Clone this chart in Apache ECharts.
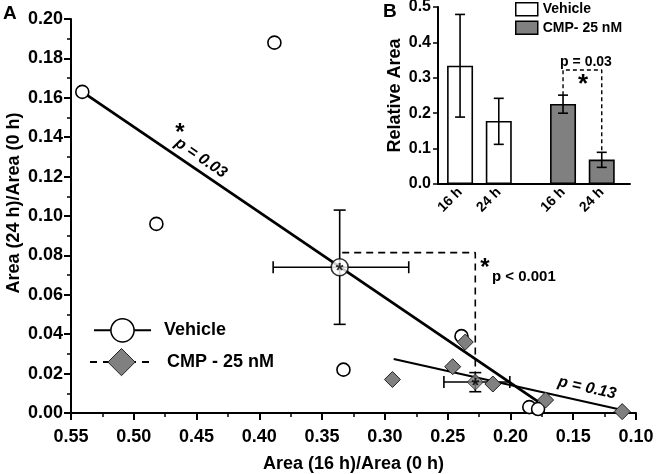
<!DOCTYPE html>
<html><head><meta charset="utf-8">
<script src="https://cdn.jsdelivr.net/npm/echarts@6/dist/echarts.min.js"></script>
<style>html,body{margin:0;padding:0;background:#fff}#c{width:657px;height:474px}</style>
</head><body><div id="c"></div>
<script>
// ---------- Panel A data ----------
const vehicleX = [0.541, 0.388, 0.482, 0.333, 0.239, 0.185, 0.178];
const vehicleY = [0.163, 0.188, 0.096, 0.022, 0.039, 0.003, 0.002];
const cmpX = [0.236, 0.246, 0.294, 0.214, 0.172, 0.111];
const cmpY = [0.036, 0.0235, 0.017, 0.0147, 0.0066, 0.0007];
const vehicleMean = [0.336, 0.074];
const vehicleMeanErrX = [0.389, 0.281];
const vehicleMeanErrY = [0.045, 0.103];
const cmpMean = [0.228, 0.0157];
const cmpMeanErrX = [0.253, 0.2005];
const cmpMeanErrY = [0.0108, 0.0205];
const vehicleFitX = [0.541, 0.178];
const vehicleFitY = [0.163, 0.0058];
const cmpFitX = [0.293, 0.111];
const cmpFitY = [0.0274, 0.0015];
const bracketAX = [0.334, 0.228, 0.228];
const bracketAY = [0.0814, 0.0814, 0.0205];
const nameVehicle = 'Vehicle';
const nameCmp = 'CMP - 25 nM';
const xTitleA = 'Area (16 h)/Area (0 h)';
const yTitleA = 'Area (24 h)/Area (0 h)';

// ---------- Panel B data ----------
const barCategories = ['16 h', '24 h', '16 h', '24 h'];
const vehicleRel = [0.334, 0.178];
const vehicleRelLow = [0.189, 0.112];
const vehicleRelHigh = [0.479, 0.242];
const cmpRel = [0.226, 0.069];
const cmpRelLow = [0.200, 0.047];
const cmpRelHigh = [0.251, 0.0895];
const bracketBY = 0.322;
const nameVehicleB = 'Vehicle';
const nameCmpB = 'CMP- 25 nM';
const yTitleB = 'Relative Area';

// ---------- helpers ----------
const FONT = '"Liberation Sans", Arial, sans-serif';
const zip = (a, b) => a.map((v, i) => [v, b[i]]);
// slot of each bar on the inset x axis: two groups, gap between groups
const slot = i => i + 1 + (i >= 2 ? 0.66 : 0);
const slots = barCategories.map((_, i) => slot(i));

function crossErr(params, api) {
  const x = api.value(0), y = api.value(1);
  const xl = api.coord([api.value(2), y]);
  const xh = api.coord([api.value(3), y]);
  const yl = api.coord([x, api.value(4)]);
  const yh = api.coord([x, api.value(5)]);
  const cap = 6;
  const st = { stroke: '#000', lineWidth: 1.6 };
  const L = (x1, y1, x2, y2) => ({ type: 'line', shape: { x1, y1, x2, y2 }, style: st });
  return { type: 'group', children: [
    L(xl[0], xl[1], xh[0], xh[1]),
    L(xl[0], xl[1] - cap, xl[0], xl[1] + cap),
    L(xh[0], xh[1] - cap, xh[0], xh[1] + cap),
    L(yl[0], yl[1], yh[0], yh[1]),
    L(yl[0] - cap, yl[1], yl[0] + cap, yl[1]),
    L(yh[0] - cap, yh[1], yh[0] + cap, yh[1])
  ]};
}
function vertErr(params, api) {
  const lo = api.coord([api.value(0), api.value(1)]);
  const hi = api.coord([api.value(0), api.value(2)]);
  const cap = 5;
  const st = { stroke: '#000', lineWidth: 1.6 };
  const L = (x1, y1, x2, y2) => ({ type: 'line', shape: { x1, y1, x2, y2 }, style: st });
  return { type: 'group', children: [
    L(lo[0], lo[1], hi[0], hi[1]),
    L(lo[0] - cap, lo[1], lo[0] + cap, lo[1]),
    L(hi[0] - cap, hi[1], hi[0] + cap, hi[1])
  ]};
}

const axisLineStyle = { color: '#000', width: 2 };
const boldTxt = (size) => ({ fontFamily: FONT, fontWeight: 'bold', fontSize: size, color: '#000' });

const chart = echarts.init(document.getElementById('c'), null, { renderer: 'canvas' });
chart.setOption({
  animation: false,
  backgroundColor: '#fff',
  textStyle: { fontFamily: FONT },
  grid: [
    { left: 71, right: 21, top: 19, bottom: 61, containLabel: false, outerBoundsMode: 'none' },
    { left: 438, top: 7, width: 192, height: 177, containLabel: false, outerBoundsMode: 'none' }
  ],
  xAxis: [
    {
      gridIndex: 0, type: 'value', inverse: true, min: 0.10, max: 0.55, interval: 0.05,
      name: xTitleA, nameLocation: 'middle', nameGap: 42, nameMoveOverlap: false, nameTextStyle: boldTxt(18),
      axisLine: { onZero: false, lineStyle: axisLineStyle },
      axisTick: { length: 7, lineStyle: { color: '#000', width: 2 } },
      minorTick: { show: true, splitNumber: 2, length: 4, lineStyle: { color: '#000', width: 1.5 } },
      axisLabel: Object.assign(boldTxt(18), { margin: 15, formatter: v => v.toFixed(2) }),
      splitLine: { show: false }
    },
    {
      gridIndex: 1, type: 'value', min: 0.43, max: 5.39,
      axisLine: { onZero: false, lineStyle: axisLineStyle },
      axisTick: { show: false },
      axisLabel: Object.assign(boldTxt(14), {
        rotate: 45, margin: 6, customValues: slots,
        formatter: v => { const i = slots.findIndex(s => Math.abs(s - v) < 1e-6); return i >= 0 ? barCategories[i] : ''; }
      }),
      splitLine: { show: false }
    }
  ],
  yAxis: [
    {
      gridIndex: 0, type: 'value', min: 0, max: 0.2, interval: 0.02,
      name: yTitleA, nameLocation: 'middle', nameGap: 48, nameMoveOverlap: false,
      nameTextStyle: Object.assign(boldTxt(18), { padding: [0, 0, 0, 26] }),
      axisLine: { onZero: false, lineStyle: axisLineStyle },
      axisTick: { length: 7, lineStyle: { color: '#000', width: 2 } },
      minorTick: { show: true, splitNumber: 2, length: 4, lineStyle: { color: '#000', width: 1.5 } },
      axisLabel: Object.assign(boldTxt(18), { margin: 8, formatter: v => v.toFixed(2) }),
      splitLine: { show: false }
    },
    {
      gridIndex: 1, type: 'value', min: 0, max: 0.5, interval: 0.1,
      name: yTitleB, nameLocation: 'middle', nameGap: 34, nameMoveOverlap: false, nameTextStyle: boldTxt(18),
      axisLine: { onZero: false, lineStyle: axisLineStyle },
      axisTick: { length: 5, lineStyle: { color: '#000', width: 1.5 } },
      axisLabel: Object.assign(boldTxt(16), { margin: 7, formatter: v => v.toFixed(1) }),
      splitLine: { show: false }
    }
  ],
  legend: [
    {
      selectedMode: false, orient: 'vertical', left: 93, top: 318, padding: 0,
      itemWidth: 57, itemHeight: 29,
      data: [{ name: nameVehicle }],
      itemStyle: { color: '#fff', borderColor: '#000', borderWidth: 1.5 },
      lineStyle: { color: '#000', width: 2, type: 'solid' },
      textStyle: Object.assign(boldTxt(18), { padding: [0, 0, 0, 8] })
    },
    {
      selectedMode: false, orient: 'vertical', left: 89, top: 348, padding: 0,
      itemWidth: 63, itemHeight: 34,
      data: [{ name: nameCmp }],
      itemStyle: { color: '#808080', borderColor: '#222', borderWidth: 1 },
      lineStyle: { color: '#000', width: 2, type: [7, 6] },
      textStyle: Object.assign(boldTxt(18), { padding: [0, 0, 0, 9] })
    },
    {
      selectedMode: false, orient: 'vertical', left: 515, top: 2, padding: 0,
      itemWidth: 22, itemHeight: 13, itemGap: 4, icon: 'rect',
      data: [nameVehicleB + ' (B)', nameCmpB],
      formatter: n => n.replace(' (B)', ''),
      itemStyle: { borderColor: '#000', borderWidth: 1.5 },
      textStyle: Object.assign(boldTxt(14), { padding: [0, 0, 0, 0] })
    }
  ],
  series: [
    {
      name: nameVehicle, type: 'line', xAxisIndex: 0, yAxisIndex: 0,
      data: zip(vehicleFitX, vehicleFitY), symbol: 'circle', showSymbol: false,
      itemStyle: { color: '#fff', borderColor: '#000' },
      lineStyle: { color: '#000', width: 2.8 }, silent: true, z: 2
    },
    {
      name: nameCmp, type: 'line', xAxisIndex: 0, yAxisIndex: 0,
      data: zip(cmpFitX, cmpFitY), symbol: 'diamond', showSymbol: false,
      itemStyle: { color: '#808080', borderColor: '#222' },
      lineStyle: { color: '#000', width: 2 }, silent: true, z: 2
    },
    {
      name: 'bracketA', type: 'line', xAxisIndex: 0, yAxisIndex: 0,
      data: zip(bracketAX, bracketAY), showSymbol: false, symbol: 'none',
      lineStyle: { color: '#000', width: 1.6, type: [7, 5] }, silent: true, z: 1
    },
    {
      name: 'Vehicle points', type: 'scatter', xAxisIndex: 0, yAxisIndex: 0,
      data: zip(vehicleX, vehicleY), symbol: 'circle', symbolSize: 13,
      itemStyle: { color: '#fff', borderColor: '#000', borderWidth: 1.6, opacity: 1 }, z: 4
    },
    {
      name: 'CMP points', type: 'scatter', xAxisIndex: 0, yAxisIndex: 0,
      data: zip(cmpX, cmpY), symbol: 'diamond', symbolSize: 16,
      itemStyle: { color: '#808080', borderColor: '#222', borderWidth: 1, opacity: 1 }, z: 4
    },
    {
      name: 'mean err', type: 'custom', xAxisIndex: 0, yAxisIndex: 0,
      renderItem: crossErr, encode: { x: [0, 2, 3], y: [1, 4, 5] },
      data: [
        [vehicleMean[0], vehicleMean[1], vehicleMeanErrX[0], vehicleMeanErrX[1], vehicleMeanErrY[0], vehicleMeanErrY[1]],
        [cmpMean[0], cmpMean[1], cmpMeanErrX[0], cmpMeanErrX[1], cmpMeanErrY[0], cmpMeanErrY[1]]
      ], silent: true, z: 3
    },
    {
      name: 'Vehicle mean', type: 'scatter', xAxisIndex: 0, yAxisIndex: 0,
      data: [vehicleMean], symbol: 'circle', symbolSize: 17,
      itemStyle: { color: '#fff', borderColor: '#000', borderWidth: 1.6 },
      label: { show: true, position: 'inside', formatter: '*', offset: [0, 4], fontSize: 20, fontWeight: 'bold', color: '#000', fontFamily: FONT },
      z: 5
    },
    {
      name: 'CMP mean', type: 'scatter', xAxisIndex: 0, yAxisIndex: 0,
      data: [cmpMean], symbol: 'diamond', symbolSize: 16,
      itemStyle: { color: '#808080', borderColor: '#222', borderWidth: 1 },
      label: { show: true, position: 'inside', formatter: '*', offset: [0, 4], fontSize: 20, fontWeight: 'bold', color: '#000', fontFamily: FONT },
      z: 5
    },
    {
      name: nameVehicleB + ' (B)', type: 'bar', xAxisIndex: 1, yAxisIndex: 1,
      data: vehicleRel.map((v, i) => [slots[i], v]), barWidth: 26, barGap: '-100%',
      itemStyle: { color: '#fff', borderColor: '#000', borderWidth: 1.6 }, z: 2
    },
    {
      name: nameCmpB, type: 'bar', xAxisIndex: 1, yAxisIndex: 1,
      data: cmpRel.map((v, i) => [slots[i + 2], v]), barWidth: 26, barGap: '-100%',
      itemStyle: { color: '#808080', borderColor: '#000', borderWidth: 1.6 }, z: 2
    },
    {
      name: 'bar err', type: 'custom', xAxisIndex: 1, yAxisIndex: 1,
      renderItem: vertErr, encode: { x: 0, y: [1, 2] },
      data: [
        [slots[0], vehicleRelLow[0], vehicleRelHigh[0]],
        [slots[1], vehicleRelLow[1], vehicleRelHigh[1]],
        [slots[2], cmpRelLow[0], cmpRelHigh[0]],
        [slots[3], cmpRelLow[1], cmpRelHigh[1]]
      ], silent: true, z: 3
    },
    {
      name: 'bracketB', type: 'line', xAxisIndex: 1, yAxisIndex: 1,
      data: [[slots[2], cmpRelHigh[0]], [slots[2], bracketBY], [slots[3], bracketBY], [slots[3], cmpRelHigh[1]]],
      symbol: 'none', lineStyle: { color: '#000', width: 1.4, type: [4, 3] }, silent: true, z: 3
    }
  ],
  graphic: [
    { type: 'text', left: 3, top: 4, style: { text: 'A', font: 'bold 19px ' + FONT, fill: '#000' } },
    { type: 'text', left: 383, top: 2, style: { text: 'B', font: 'bold 19px ' + FONT, fill: '#000' } },
    { type: 'text', x: 180, y: 133, style: { text: '*', font: 'bold 24px ' + FONT, fill: '#000', align: 'center', verticalAlign: 'middle' } },
    { type: 'text', x: 201, y: 158, rotation: -0.6, style: { text: 'p = 0.03', font: 'italic bold 16px ' + FONT, fill: '#000', align: 'center', verticalAlign: 'middle' } },
    { type: 'text', x: 485, y: 268, style: { text: '*', font: 'bold 24px ' + FONT, fill: '#000', align: 'center', verticalAlign: 'middle' } },
    { type: 'text', x: 492, y: 277, style: { text: 'p < 0.001', font: 'bold 15px ' + FONT, fill: '#000', align: 'left', verticalAlign: 'middle' } },
    { type: 'text', x: 587, y: 388, rotation: -0.22, style: { text: 'p = 0.13', font: 'italic bold 16px ' + FONT, fill: '#000', align: 'center', verticalAlign: 'middle' } },
    { type: 'text', x: 586, y: 62, style: { text: 'p = 0.03', font: 'bold 14px ' + FONT, fill: '#000', align: 'center', verticalAlign: 'middle' } },
    { type: 'text', x: 583, y: 85, style: { text: '*', font: 'bold 26px ' + FONT, fill: '#000', align: 'center', verticalAlign: 'middle' } }
  ]
});
</script>
</body></html>
